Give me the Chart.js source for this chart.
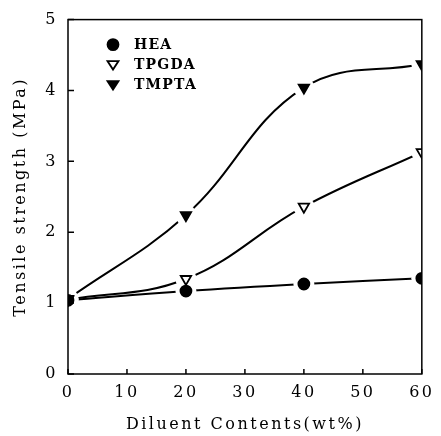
<!DOCTYPE html>
<html>
<head>
<meta charset="utf-8">
<script src="https://cdn.jsdelivr.net/npm/chart.js@4/dist/chart.umd.min.js"></script>
<style>
html, body { margin: 0; padding: 0; background: #fff; }
canvas { display: block; }
</style>
</head>
<body>
<canvas id="mycanvas" width="441" height="436"></canvas>
<script>
// diluent content (wt%) and tensile strength (MPa)
var contents = [0, 20, 40, 60];
var hea   = [1.04, 1.17, 1.27, 1.35];
var tpgda = [1.05, 1.34, 2.36, 3.13];
var tmpta = [1.06, 2.24, 4.04, 4.37];
var labels = ['HEA', 'TPGDA', 'TMPTA'];
var xTicks = [0, 10, 20, 30, 40, 50, 60];
var yTicks = [0, 1, 2, 3, 4, 5];

function pts(vals) {
	var out = [];
	for (var i in contents) out.push({x: contents[i], y: vals[i]});
	return out;
}

var series = [hea, tpgda, tmpta];
var styles = [
	{style: 'circle', rot: 0, fill: '#000', r: 5.5},
	{style: 'triangle', rot: 180, fill: '#fff', r: 6},
	{style: 'triangle', rot: 180, fill: '#000', r: 6}
];

var datasets = [];
for (var i = 0; i < series.length; i++) {
	// smooth curve
	datasets.push({
		label: labels[i] + ' curve',
		data: pts(series[i]),
		showLine: true,
		borderColor: '#000',
		borderWidth: 2,
		tension: 0.4,
		pointRadius: 0,
		order: 3
	});
	// white halo behind the marker (gives the gap in the line)
	datasets.push({
		label: labels[i] + ' halo',
		data: pts(series[i]),
		showLine: false,
		pointStyle: 'circle',
		pointRadius: 10.5,
		pointBackgroundColor: '#fff',
		pointBorderWidth: 0,
		order: 2
	});
	// marker
	datasets.push({
		label: labels[i],
		data: pts(series[i]),
		showLine: false,
		pointStyle: styles[i].style,
		rotation: styles[i].rot,
		pointRadius: styles[i].r,
		pointBackgroundColor: styles[i].fill,
		pointBorderColor: '#000',
		pointBorderWidth: 1.8,
		order: 1 - i * 0.1
	});
}

var font = 'DejaVu Serif';

var framePlugin = {
	id: 'frame',
	beforeDraw: function(chart) {
		chart.ctx.letterSpacing = '2.5px';
	},
	afterDraw: function(chart) {
		var ctx = chart.ctx, a = chart.chartArea;
		var xs = chart.scales.x, ys = chart.scales.y;
		ctx.save();
		ctx.strokeStyle = '#000';
		ctx.lineWidth = 1.5;
		ctx.strokeRect(a.left, a.top, a.right - a.left, a.bottom - a.top);
		ctx.beginPath();
		xTicks.forEach(function(v) {
			var px = xs.getPixelForValue(v);
			ctx.moveTo(px, a.bottom); ctx.lineTo(px, a.bottom - 5);
		});
		yTicks.forEach(function(v) {
			var py = ys.getPixelForValue(v);
			ctx.moveTo(a.left, py); ctx.lineTo(a.left + 6, py);
		});
		ctx.stroke();

		// legend inside the plot
		ctx.letterSpacing = '1.2px';
		ctx.font = 'bold 14px "' + font + '"';
		ctx.textBaseline = 'middle';
		ctx.fillStyle = '#000';
		for (var i = 0; i < labels.length; i++) {
			var cx = a.left + 45, cy = a.top + 25 + i * 20;
			ctx.beginPath();
			if (styles[i].style === 'circle') {
				ctx.arc(cx, cy, 5.5, 0, Math.PI * 2);
			} else {
				ctx.moveTo(cx - 5.5, cy - 3.5);
				ctx.lineTo(cx + 5.5, cy - 3.5);
				ctx.lineTo(cx, cy + 5);
				ctx.closePath();
			}
			ctx.fillStyle = styles[i].fill;
			ctx.fill();
			ctx.lineWidth = 1.8;
			ctx.stroke();
			ctx.fillStyle = '#000';
			ctx.fillText(labels[i], cx + 21, cy + 1);
		}
		ctx.restore();
	}
};

var ctx = document.getElementById('mycanvas');
var chart = new Chart(ctx, {
	type: 'scatter',
	data: {datasets: datasets},
	plugins: [framePlugin],
	options: {
		responsive: false,
		animation: false,
		devicePixelRatio: 1,
		layout: {padding: {top: 19, right: 13, left: 0, bottom: 0}},
		plugins: {legend: {display: false}, tooltip: {enabled: false}},
		scales: {
			x: {
				type: 'linear', min: 0, max: 60,
				afterFit: function(s) { s.height = 62; },
				afterBuildTicks: function(s) { s.ticks = xTicks.map(function(v) { return {value: v}; }); },
				grid: {display: false, drawTicks: false},
				border: {display: false},
				ticks: {color: '#000', padding: 9, maxRotation: 0, font: {family: font, size: 16}},
				title: {display: true, text: 'Diluent Contents(wt%)', color: '#000',
					font: {family: font, size: 16}, padding: {top: 0, bottom: 2}}
			},
			y: {
				type: 'linear', min: 0, max: 5,
				afterFit: function(s) { s.width = 68; },
				afterBuildTicks: function(s) { s.ticks = yTicks.map(function(v) { return {value: v}; }); },
				grid: {display: false, drawTicks: false},
				border: {display: false},
				ticks: {color: '#000', padding: 10, font: {family: font, size: 16}},
				title: {display: true, text: 'Tensile strength (MPa)', color: '#000',
					font: {family: font, size: 16}, padding: {top: 11, bottom: 0}}
			}
		}
	}
});
</script>
</body>
</html>
